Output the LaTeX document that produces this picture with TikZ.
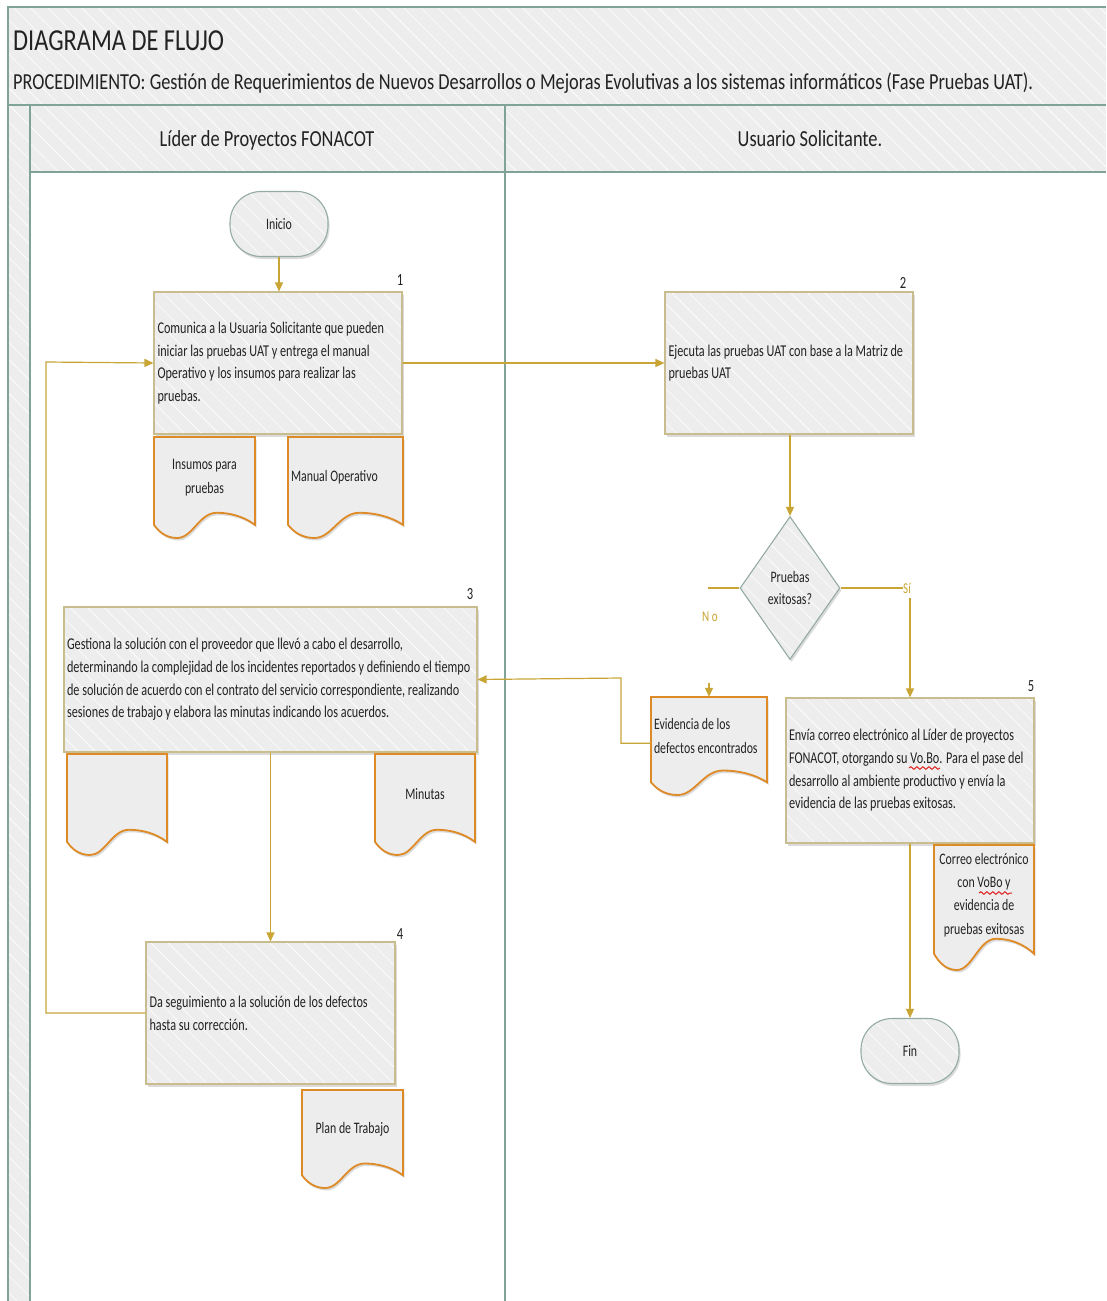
\documentclass[tikz,border=0pt]{standalone}
\usepackage{fontspec}
\setmainfont{Carlito}[FakeStretch=0.74]
\newfontfamily\hdfont{Carlito}[FakeStretch=0.8]
\usetikzlibrary{arrows.meta,shapes.geometric,shadows,patterns.meta,calc,decorations.pathmorphing}
\definecolor{frameC}{HTML}{7FA397}
\definecolor{bandC}{HTML}{EDEDED}
\definecolor{boxC}{HTML}{C9BC8D}
\definecolor{fillC}{HTML}{EDEDED}
\definecolor{connC}{HTML}{C9A535}
\definecolor{docC}{HTML}{DE8A26}
\definecolor{termC}{HTML}{93ABA3}
\definecolor{txtC}{HTML}{222222}
\definecolor{spellC}{HTML}{E02020}
\newcommand\docshape[4]{%
  \pgfmathsetmacro\dw{#3-#1}\pgfmathsetmacro\dh{#4-#2}%
  \path[docline] (#1,#2) -- (#3,#2) -- (#3,#2+0.87*\dh)
    .. controls (#1+0.88*\dw,#2+0.78*\dh) and (#1+0.74*\dw,#2+0.75*\dh) .. (#1+0.62*\dw,#2+0.75*\dh)
    .. controls (#1+0.45*\dw,#2+0.75*\dh) and (#1+0.38*\dw,#4) .. (#1+0.23*\dw,#4)
    .. controls (#1+0.12*\dw,#4) and (#1+0.05*\dw,#2+0.94*\dh) .. (#1,#2+0.87*\dh) -- cycle;}
% name, x0, y0, x1, y1, options, text
\newcommand\docnode[7]{%
  \docshape{#2}{#3}{#4}{#5}%
  \node[doctext,#6,minimum width={(#4-#2)*1pt},minimum height={0.8*(#5-#3)*1pt}]
    (#1) at ({(#2+#4)/2},{#3+0.4*(#5-#3)}) {#7};}
\begin{document}
\begin{tikzpicture}[x=1pt,y=-1pt,
  hatch/.style={pattern={Lines[angle=-45,distance=12pt,line width=0.6pt]},pattern color=white},
  frame/.style={draw=frameC,line width=1.8pt},
  shadowed/.style={drop shadow={opacity=0.28,shadow xshift=1.5pt,shadow yshift=-2.5pt}},
  procbox/.style={rectangle,draw=boxC,line width=1.1pt,shadowed,preaction={fill=fillC},hatch,
    text=txtC,align=flush left,inner sep=3pt,font=\fontsize{16.5}{22.7}\selectfont},
  term/.style={rectangle,rounded corners=31pt,draw=termC,line width=1.1pt,shadowed,preaction={fill=fillC},hatch,
    minimum width=98pt,minimum height=65pt,text=txtC,font=\fontsize{16}{20}\selectfont},
  decision/.style={diamond,aspect=0.7,draw=termC,line width=1.1pt,shadowed,preaction={fill=fillC},hatch,
    minimum width=100pt,minimum height=143pt,inner sep=0pt,text=txtC,align=center,font=\fontsize{16}{22}\selectfont},
  docline/.style={draw=docC,line width=1.8pt,fill=fillC,shadowed},
  doctext/.style={rectangle,inner xsep=3pt,inner ysep=0pt,text=txtC,font=\fontsize{16}{24}\selectfont},
  num/.style={text=txtC,font=\fontsize{17}{17}\selectfont,inner sep=0pt},
  heading/.style={inner sep=0pt,text=txtC},
  conn/.style={draw=connC,line width=1.2pt},
  arr/.style={conn,-{Triangle[length=9pt,width=8pt]}},
  lbl/.style={text=connC,font=\fontsize{15}{15}\selectfont,inner sep=0pt},
  spell/.style={draw=spellC,line width=1pt,decorate,decoration={snake,amplitude=1.3pt,segment length=6pt}}]
\useasboundingbox (0,0) rectangle (1106,1301);
\fill[white] (0,0) rectangle (1106,1301);
% bands
\fill[bandC] (8,7) rectangle (1106,172);
\fill[hatch] (8,7) rectangle (1106,172);
\fill[bandC] (8,172) rectangle (30,1301);
\fill[hatch] (8,172) rectangle (30,1301);
\draw[frame] (1106,7) -- (8,7) -- (8,1301);
\draw[frame] (8,105) -- (1106,105);
\draw[frame] (30,105) -- (30,1301);
\draw[frame] (30,172) -- (1106,172);
\draw[frame] (505,105) -- (505,1301);
\node[heading,anchor=base west,font=\hdfont\fontsize{30.5}{30}\selectfont] (title) at (13,50) {DIAGRAMA DE FLUJO};
\node[heading,anchor=base west,font=\hdfont\fontsize{22.9}{23}\selectfont] (proc) at (13,89)
  {PROCEDIMIENTO: Gestión de Requerimientos de Nuevos Desarrollos o Mejoras Evolutivas a los sistemas informáticos (Fase Pruebas UAT).};
\node[heading,anchor=base,font=\hdfont\fontsize{23}{23}\selectfont] (lane1) at (267,146) {Líder de Proyectos FONACOT};
\node[heading,anchor=base,font=\hdfont\fontsize{23}{23}\selectfont] (lane2) at (810,146) {Usuario Solicitante.};

% terminals
\node[term] (ini) at (279,224) {Inicio};
\node[term] (fin) at (910,1051) {Fin};

% process boxes
\node[procbox,minimum width=248pt,minimum height=142pt,text width=241pt] (b1) at (278,363)
  {Comunica a la Usuaria Solicitante que pueden\\iniciar las pruebas UAT y entrega el manual\\Operativo y los insumos para realizar las\\pruebas.};
\node[num,anchor=south] (n1) at (400,286) {1};
\node[procbox,minimum width=248pt,minimum height=142pt,text width=241pt] (b2) at (789,363)
  {Ejecuta las pruebas UAT con base a la Matriz de\\pruebas UAT};
\node[num,anchor=south] (n2) at (903,289) {2};
\node[decision] (dec) at (790,588) {Pruebas\\exitosas?};
\node[procbox,minimum width=413pt,minimum height=145pt,text width=407pt] (b3) at (270.5,679.5)
  {Gestiona la solución con el proveedor que llevó a cabo el desarrollo,\\determinando la complejidad de los incidentes reportados y definiendo el tiempo\\de solución de acuerdo con el contrato del servicio correspondiente, realizando\\sesiones de trabajo y elabora las minutas indicando los acuerdos.};
\node[num,anchor=south] (n3) at (470,600) {3};
\node[procbox,minimum width=249pt,minimum height=142pt,text width=242pt] (b4) at (270.5,1013)
  {Da seguimiento a la solución de los defectos\\hasta su corrección.};
\node[num,anchor=south] (n4) at (400,940) {4};
\node[procbox,minimum width=248pt,minimum height=145pt,text width=242pt] (b5) at (910,770.5)
  {Envía correo electrónico al Líder de proyectos\\FONACOT, otorgando su Vo.Bo. Para el pase del\\desarrollo al ambiente productivo y envía la\\evidencia de las pruebas exitosas.};
\node[num,anchor=south] (n5) at (1031,692) {5};

% documents
\docnode{dIns}{154}{437}{255}{538}{align=flush center}{Insumos para\\pruebas}
\docnode{dMan}{288}{437}{403}{538}{align=flush left,text width=109pt}{Manual Operativo}
\docnode{dEv}{651}{697}{767}{795}{align=flush left,text width=110pt}{Evidencia de los\\defectos encontrados}
\docnode{dBl}{67}{754}{167}{855}{}{}
\docnode{dMin}{375}{754}{475}{855}{align=flush center}{Minutas}
\docnode{dPlan}{302}{1090}{403}{1188}{align=flush center}{Plan de Trabajo}
\docnode{dCor}{934}{845}{1034}{970}{align=flush center,text width=94pt,font=\fontsize{16}{23.2}\selectfont}{Correo electrónico\\con VoBo y\\evidencia de\\pruebas exitosas}

% spell-check marks
\draw[spell] (909,768) -- (940,768);
\draw[spell] (979,893) -- (1012,893);

% connectors
\draw[arr] (ini.south) -- (ini.south |- b1.north);
\draw[arr] (b1.east) -- (b2.west);
\draw[arr] (b2.south -| dec.north) -- (dec.north);
\coordinate (noEnd) at (708,588);
\draw[conn] (dec.west) -- (noEnd);
\node[lbl] (noL) at (710,617) {N\,o};
\coordinate (noIn) at (709,683);
\draw[arr] (noIn) -- (noIn |- dEv.north);
\coordinate (siEnd) at (903,588);
\draw[conn] (dec.east) -- (siEnd);
\node[lbl,anchor=west] (siL) at (903,588) {Sí};
\coordinate (siDown) at (910,598);
\draw[arr] (siDown) -- (siDown |- b5.north);
\draw[arr] ([yshift=-7pt]dEv.west) -| (621,678) -- (b3.east);
\draw[arr] (b3.south) -- (b4.north);
\draw[arr] (b4.west) -| (46,362) -- (b1.west);
\draw[arr] (b5.south) -- (fin.north);
\end{tikzpicture}
\end{document}
